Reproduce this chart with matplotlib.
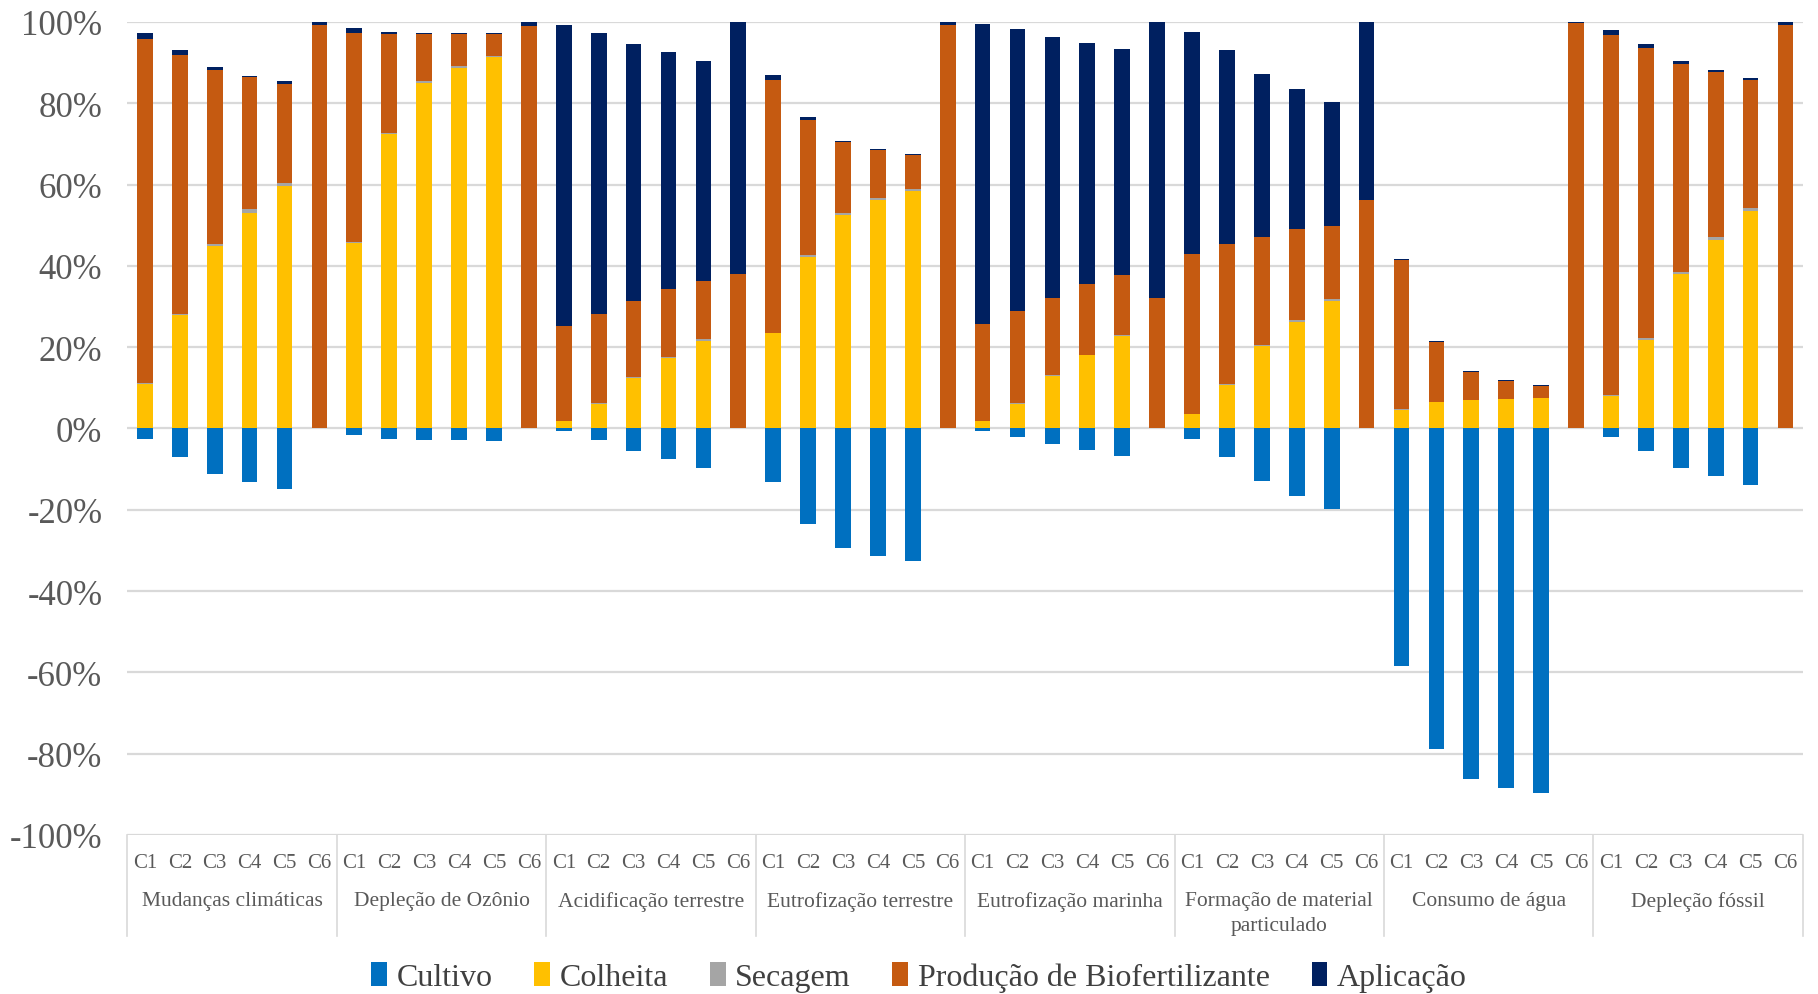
import numpy as np
import matplotlib
matplotlib.use("Agg")
import matplotlib.pyplot as plt
from matplotlib.patches import Patch
from matplotlib.transforms import blended_transform_factory

plt.rcParams['font.family'] = ['Liberation Serif', 'DejaVu Serif']
plt.rcParams['axes.unicode_minus'] = False

# impact categories and scenarios
categories = ["Mudanças climáticas", "Depleção de Ozônio", "Acidificação terrestre",
              "Eutrofização terrestre", "Eutrofização marinha",
              "Formação de material\nparticulado", "Consumo de água", "Depleção fóssil"]
scenarios = ["C1", "C2", "C3", "C4", "C5", "C6"]

# contributions in %, one row per category (C1..C6)
cultivo = [
    -2.7, -7.0, -11.1, -13.1, -14.8, 0,
    -1.5, -2.5, -2.8, -2.9, -3.1, 0,
    -0.7, -2.8, -5.5, -7.6, -9.7, 0,
    -13.1, -23.5, -29.3, -31.4, -32.7, 0,
    -0.7, -2.0, -3.9, -5.3, -6.7, 0,
    -2.5, -6.9, -12.9, -16.6, -19.8, 0,
    -58.5, -78.9, -86.3, -88.4, -89.7, 0,
    -2.0, -5.5, -9.6, -11.8, -13.8, 0,
]
colheita = [
    11.0, 27.8, 44.9, 53.1, 59.7, 0,
    45.6, 72.4, 85.1, 88.8, 91.3, 0,
    1.8, 6.0, 12.3, 17.3, 21.6, 0,
    23.4, 42.3, 52.6, 56.2, 58.4, 0,
    1.8, 6.1, 12.9, 18.0, 22.8, 0,
    3.5, 10.7, 20.2, 26.2, 31.3, 0,
    4.6, 6.4, 7.0, 7.2, 7.4, 0,
    8.0, 21.8, 37.9, 46.3, 53.5, 0,
]
secagem = [
    0.3, 0.4, 0.6, 0.8, 0.6, 0,
    0.2, 0.3, 0.3, 0.3, 0.4, 0,
    0.1, 0.2, 0.3, 0.4, 0.5, 0,
    0.2, 0.3, 0.4, 0.4, 0.5, 0,
    0.1, 0.1, 0.2, 0.2, 0.3, 0,
    0.1, 0.2, 0.3, 0.4, 0.5, 0,
    0.1, 0.1, 0.1, 0.1, 0.1, 0,
    0.2, 0.4, 0.5, 0.7, 0.7, 0,
]
biofert = [
    84.4, 63.8, 42.6, 32.6, 24.5, 99.2,
    51.6, 24.3, 11.6, 7.9, 5.3, 98.9,
    23.3, 21.9, 18.7, 16.6, 14.1, 38.0,
    62.1, 33.3, 17.4, 11.8, 8.3, 99.3,
    23.9, 22.6, 19.1, 17.3, 14.6, 32.0,
    39.3, 34.6, 26.7, 22.5, 18.0, 56.1,
    36.8, 14.8, 6.9, 4.4, 3.0, 99.8,
    88.5, 71.3, 51.3, 40.6, 31.5, 99.3,
]
aplicacao = [
    1.6, 1.2, 0.8, 0.3, 0.6, 0.8,
    1.1, 0.6, 0.3, 0.3, 0.3, 1.1,
    74.0, 69.1, 63.4, 58.2, 54.3, 62.0,
    1.2, 0.7, 0.3, 0.3, 0.3, 0.7,
    73.7, 69.4, 64.1, 59.3, 55.6, 68.0,
    54.7, 47.6, 40.1, 34.3, 30.4, 43.9,
    0.2, 0.2, 0.2, 0.2, 0.2, 0.2,
    1.3, 1.0, 0.6, 0.5, 0.5, 0.7,
]

series = [("Cultivo", cultivo, "#0070C0"),
          ("Colheita", colheita, "#FFC000"),
          ("Secagem", secagem, "#A5A5A5"),
          ("Produção de Biofertilizante", biofert, "#C55A11"),
          ("Aplicação", aplicacao, "#002060")]

fig = plt.figure(figsize=(18.18, 9.95), dpi=100)
ax = fig.add_axes([0.0701, 0.1598, 0.9216, 0.8171])

n = len(categories) * len(scenarios)
x = np.arange(n)
width = 0.45

# negative part
ax.bar(x, cultivo, width, color=series[0][2], zorder=3)
# positive stack
bottom = np.zeros(n)
for name, vals, col in series[1:]:
    v = np.array(vals)
    ax.bar(x, v, width, bottom=bottom, color=col, zorder=3)
    bottom += v

ax.set_xlim(-0.5, n - 0.5)
ax.set_ylim(-100, 100)
ax.set_yticks(np.arange(-100, 101, 20))
ax.set_yticklabels([f"{v}%" for v in range(-100, 101, 20)], fontsize=25, color="#595959")
ax.yaxis.grid(True, color="#D9D9D9", linewidth=1.6, zorder=0)
ax.set_axisbelow(True)
ax.tick_params(axis="y", length=0, pad=18)
ax.set_xticks([])
for s in ax.spines.values():
    s.set_visible(False)

# category axis labels
trans = blended_transform_factory(ax.transData, ax.transAxes)
for i in range(n):
    ax.text(i, -0.034, scenarios[i % 6], transform=trans, ha="center", va="center",
            fontsize=15, color="#595959")
for g, name in enumerate(categories):
    ax.text(g * 6 + 2.5, -0.069, name, transform=trans, ha="center", va="top",
            fontsize=15.5, color="#595959", linespacing=1.4)
for g in range(len(categories) + 1):
    ax.plot([g * 6 - 0.5, g * 6 - 0.5], [0, -0.124], transform=trans,
            color="#D9D9D9", linewidth=1.2, clip_on=False)

handles = [Patch(facecolor=col, label=name) for name, _, col in series]
fig.legend(handles=handles, loc="center", bbox_to_anchor=(919 / 1818, 0.017), ncol=5,
           frameon=False, fontsize=23, handlelength=0.5, handleheight=0.8,
           handletextpad=0.3, columnspacing=1.3, labelcolor="#404040")

fig.savefig("out.png", dpi=100)
